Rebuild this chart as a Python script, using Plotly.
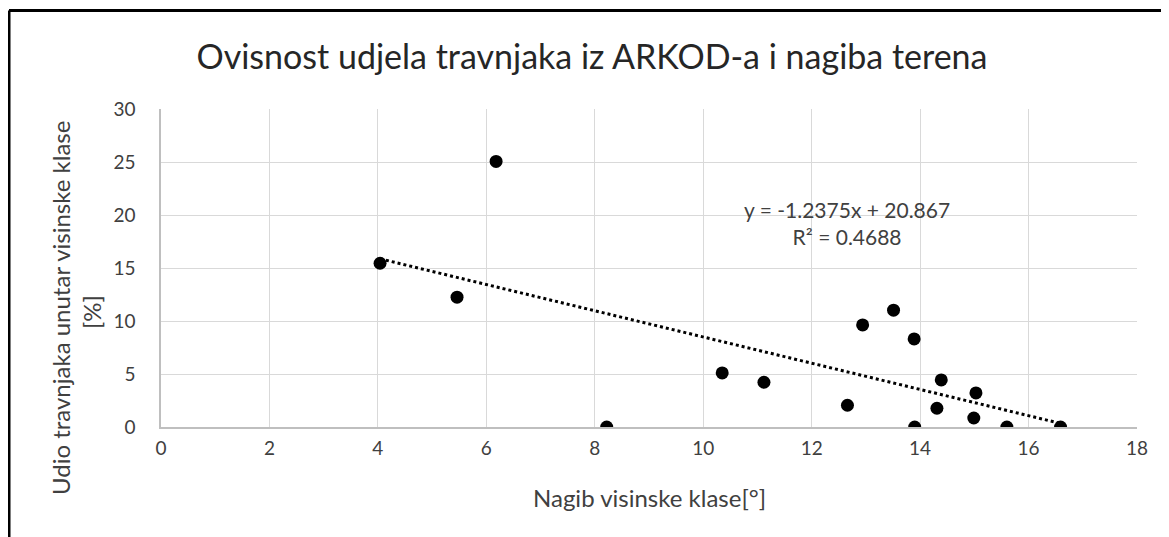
import plotly.graph_objects as go

# Data
nagib = [4.04, 6.18, 5.46, 8.22, 10.35, 11.12, 12.66, 12.94, 13.51, 13.89, 13.90,
         14.31, 14.39, 14.99, 15.03, 15.60, 16.59]
udio = [15.45, 25.05, 12.25, 0.0, 5.1, 4.22, 2.05, 9.63, 11.02, 8.31, 0.0,
        1.77, 4.44, 0.85, 3.21, 0.0, 0.0]

slope = -1.2375
intercept = 20.867
r2 = 0.4688

title_text = "Ovisnost udjela travnjaka iz ARKOD-a i nagiba terena"
x_title = "Nagib visinske klase[°]"
y_title_1 = "Udio travnjaka unutar visinske klase"
y_title_2 = "[%]"
x_ticks = [0, 2, 4, 6, 8, 10, 12, 14, 16, 18]
y_ticks = [0, 5, 10, 15, 20, 25, 30]

FONT = "Lato"
TXT = "#404040"

x_trend = [min(nagib), max(nagib)]
y_trend = [slope * v + intercept for v in x_trend]

fig = go.Figure()
fig.add_trace(go.Scatter(x=x_trend, y=y_trend, mode="lines",
                         line=dict(color="black", width=3, dash="dot"),
                         hoverinfo="skip", showlegend=False))
fig.add_trace(go.Scatter(x=nagib, y=udio, mode="markers",
                         marker=dict(color="black", size=13),
                         showlegend=False))

OFF = 8  # page body margin
W, H = 1169 - OFF, 537 - OFF
L, T = 161 - OFF, 109 - OFF
R = W - (1137 - OFF)
B = H - (427 - OFF)
pw, ph = W - L - R, H - T - B

def px(xp):  # page x -> paper
    return (xp - OFF - L) / pw

def py(yp):  # page y -> paper
    return (H - B - (yp - OFF)) / ph

fig.update_layout(
    width=W, height=H,
    margin=dict(l=L, r=R, t=T, b=B),
    paper_bgcolor="white", plot_bgcolor="white",
    font=dict(family=FONT, color=TXT, size=19),
    title=dict(text=title_text, x=(592 - OFF) / W, xanchor="center",
               y=1 - (57 - OFF) / H, yanchor="middle",
               font=dict(family=FONT, size=34, color="#262626")),
    xaxis=dict(range=[0, 18], tickvals=x_ticks, showgrid=True,
               gridcolor="#D9D9D9", gridwidth=1, zeroline=False,
               showline=True, linecolor="#BFBFBF", linewidth=1.5,
               ticks="", ticklabelstandoff=3,
               tickfont=dict(family=FONT, size=19, color=TXT)),
    yaxis=dict(range=[0, 30], tickvals=y_ticks, showgrid=True,
               gridcolor="#D9D9D9", gridwidth=1, zeroline=False,
               showline=True, linecolor="#BFBFBF", linewidth=1.5,
               ticks="", ticklabelstandoff=20,
               tickfont=dict(family=FONT, size=19, color=TXT)),
)

fig.add_annotation(text=x_title, xref="paper", yref="paper",
                   x=px(649), y=py(497), xanchor="center", yanchor="middle",
                   showarrow=False, font=dict(family=FONT, size=24, color=TXT))
fig.add_annotation(text=y_title_1, xref="paper", yref="paper",
                   x=px(60), y=py(308), xanchor="center", yanchor="middle",
                   textangle=-90, showarrow=False,
                   font=dict(family=FONT, size=24, color=TXT))
fig.add_annotation(text=y_title_2, xref="paper", yref="paper",
                   x=px(91), y=py(312), xanchor="center", yanchor="middle",
                   textangle=-90, showarrow=False,
                   font=dict(family=FONT, size=24, color=TXT))
fig.add_annotation(text=f"y = {slope}x + {intercept}<br>R² = {r2}",
                   xref="x", yref="y", x=12.66, y=19.2,
                   xanchor="center", yanchor="middle", showarrow=False,
                   font=dict(family=FONT, size=21, color=TXT))

# chart frame (left and top edges visible)
fig.add_shape(type="line", xref="paper", yref="paper",
              x0=px(9), x1=px(9), y0=py(10.5), y1=py(560),
              line=dict(color="black", width=3))
fig.add_shape(type="line", xref="paper", yref="paper",
              x0=px(9), x1=px(1200), y0=py(10.5), y1=py(10.5),
              line=dict(color="black", width=3))

fig.write_html("out.html")
